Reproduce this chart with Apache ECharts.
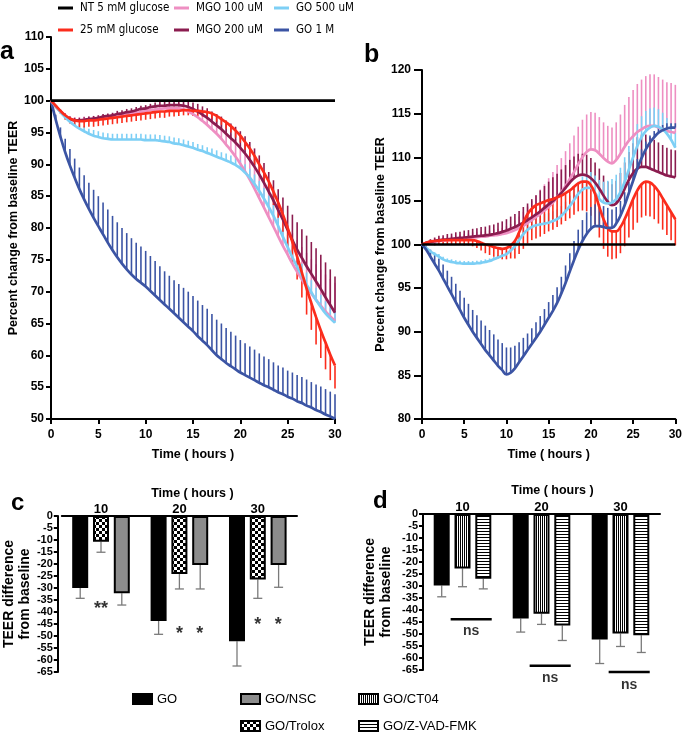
<!DOCTYPE html>
<html><head><meta charset="utf-8">
<script src="https://cdn.jsdelivr.net/npm/echarts@6/dist/echarts.min.js"></script>
<style>html,body{margin:0;padding:0;background:#fff}#chart{width:685px;height:732px}</style>
</head><body><div id="chart"></div>
<script>
// ---------- DATA ----------
const hours = [0,0.5,1,1.5,2,2.5,3,3.5,4,4.5, 5,5.5,6,6.5,7,7.5,8,8.5,9,9.5, 10,10.5,11,11.5,12,12.5,13,13.5,14,14.5,
  15,15.5,16,16.5,17,17.5,18,18.5,19,19.5, 20,20.5,21,21.5,22,22.5,23,23.5,24,24.5, 25,25.5,26,26.5,27,27.5,28,28.5,29,29.5, 30];

const seriesNames = ['NT 5 mM glucose','25 mM glucose','MGO 100 uM','MGO 200 uM','GO 500 uM','GO 1 M'];

// Panel a
const aNT = [100,100,100,100,100,100,100,100,100,100, 100,100,100,100,100,100,100,100,100,100, 100,100,100,100,100,100,100,100,100,100,
  100,100,100,100,100,100,100,100,100,100, 100,100,100,100,100,100,100,100,100,100, 100,100,100,100,100,100,100,100,100,100, 100];
const aGlu25 = [100,99.2,98.4,97.7,97.2,96.9,96.8,96.8,96.9,96.9, 97.0,97.1,97.2,97.3,97.4,97.5,97.6,97.7,97.8,97.9,
  98.0,98.1,98.2,98.3,98.3,98.4,98.4,98.4,98.5,98.5, 98.4,98.4,98.3,98.2,98.0,97.6,97.1,96.6,96.0,95.3,
  94.5,93.5,92.5,91.3,90.0,88.7,87.3,85.7,84.0,82.1, 80.0,77.8,75.5,73.0,70.5,68.2,66.0,63.9,62.0,60.1, 58.4];
const aGlu25Err = [0,0.3,0.5,0.7,0.8,0.9,1.0,1.0,1.0,1.0, 1.0,1.0,1.0,1.0,1.0,1.0,1.0,1.0,1.0,1.0,
  1.0,1.0,1.0,1.0,1.0,0.9,0.9,0.8,0.8,0.8, 0.8,0.8,0.8,0.8,0.8,0.9,0.9,1.0,1.0,1.1,
  1.1,1.2,1.3,1.4,1.5,1.7,1.9,2.1,2.4,2.7, 3.0,3.3,3.6,3.9,4.1,4.2,4.3,4.3,4.2,4.0, 3.6];
const aMGO100 = [100,99.1,98.3,97.6,97.1,96.9,96.9,97.0,97.0,97.1, 97.2,97.3,97.4,97.5,97.6,97.7,97.8,98.0,98.1,98.2,
  98.4,98.5,98.6,98.7,98.8,98.8,98.8,98.8,98.6,98.3, 97.9,97.4,96.8,96.2,95.5,94.8,94.0,93.1,92.2,91.2,
  90.1,88.9,87.6,86.2,84.7,83.2,81.7,80.2,78.7,77.2, 75.8,74.4,73.1,71.9,70.8,69.7,68.7,67.8,66.9,66.1, 65.4];
const aMGO100Err = [0,0.2,0.3,0.4,0.5,0.5,0.5,0.5,0.5,0.5, 0.5,0.5,0.5,0.5,0.5,0.5,0.5,0.5,0.5,0.5,
  0.5,0.5,0.5,0.6,0.6,0.7,0.7,0.8,0.9,1.0, 1.2,1.3,1.5,1.6,1.8,2.0,2.2,2.4,2.6,2.8,
  3.0,3.2,3.3,3.5,3.6,3.8,4.0,4.1,4.3,4.5, 4.6,4.8,5.0,5.1,5.3,5.4,5.6,5.7,5.8,5.9, 6.0];
const aMGO200 = [100,99.1,98.3,97.6,97.1,96.9,96.9,97.0,97.1,97.2, 97.3,97.5,97.6,97.7,97.9,98.0,98.2,98.3,98.5,98.7,
  98.8,99.0,99.1,99.2,99.2,99.3,99.3,99.3,99.2,99.0, 98.7,98.3,97.8,97.3,96.7,96.1,95.5,94.8,94.1,93.4,
  92.6,91.7,90.7,89.6,88.4,87.1,85.7,84.3,82.8,81.3, 79.7,78.1,76.6,75.3,74.0,72.8,71.6,70.4,69.1,67.9, 66.7];
const aMGO200Err = [0,0.2,0.3,0.4,0.4,0.4,0.4,0.4,0.4,0.4, 0.4,0.4,0.4,0.4,0.5,0.5,0.5,0.5,0.5,0.5,
  0.5,0.5,0.6,0.6,0.6,0.7,0.7,0.7,0.8,0.9, 1.0,1.2,1.3,1.5,1.6,1.8,2.0,2.1,2.3,2.5,
  2.6,2.7,2.8,2.9,3.0,3.1,3.1,3.2,3.3,3.5, 3.8,4.0,4.3,4.5,4.8,5.0,5.2,5.4,5.5,5.6, 5.7];
const aGO500 = [100,99.1,98.2,97.4,96.7,96.1,95.6,95.2,94.8,94.5, 94.3,94.1,94.0,93.9,93.9,93.9,93.9,93.9,93.9,93.9,
  93.8,93.8,93.8,93.7,93.6,93.5,93.3,93.2,93.0,92.8, 92.6,92.3,92.1,91.8,91.5,91.2,90.9,90.6,90.3,89.9,
  89.4,88.7,87.9,86.9,85.8,84.6,83.3,81.9,80.3,78.6, 77.0,75.4,73.9,72.5,71.1,69.9,68.7,67.6,66.6,65.8, 65.1];
const aGO500Err = [0,0.2,0.3,0.4,0.5,0.6,0.7,0.8,0.8,0.9, 0.9,0.9,0.9,0.9,0.9,0.9,0.9,0.9,0.9,0.9,
  0.9,0.9,0.9,0.9,0.9,0.9,0.9,0.9,0.9,0.9, 0.9,0.9,0.9,0.9,1.0,1.0,1.0,1.1,1.1,1.2,
  1.2,1.3,1.4,1.5,1.6,1.7,1.8,1.8,1.9,1.9, 1.9,1.9,1.9,1.9,1.9,1.9,1.9,1.9,1.9,1.9, 1.9];
const aGO1M = [100,97.0,94.3,91.9,89.8,87.9,86.1,84.5,83.0,81.6, 80.3,79.0,77.7,76.5,75.4,74.4,73.5,72.7,72.0,71.4,
  70.8,70.1,69.4,68.7,68.0,67.3,66.6,65.9,65.2,64.5, 63.8,63.0,62.3,61.6,60.8,60.0,59.4,58.8,58.3,57.8,
  57.3,56.9,56.5,56.1,55.7,55.3,55.0,54.6,54.2,53.9, 53.5,53.2,52.8,52.5,52.1,51.8,51.4,51.1,50.7,50.4, 50.0];
const aGO1MErr = [0,0.8,1.5,2.1,2.6,3.0,3.4,3.8,4.1,4.4, 4.7,5.0,5.2,5.4,5.5,5.6,5.7,5.7,5.7,5.7,
  5.6,5.5,5.4,5.3,5.2,5.2,5.2,5.3,5.4,5.5, 5.5,5.6,5.6,5.7,5.7,5.6,5.6,5.5,5.4,5.3,
  5.1,5.0,4.9,4.8,4.6,4.5,4.4,4.3,4.2,4.2, 4.1,4.1,4.1,4.1,4.1,4.0,4.0,4.0,4.0,3.9, 3.9];

// Panel b
const bNT = [100,100,100,100,100,100,100,100,100,100, 100,100,100,100,100,100,100,100,100,100, 100,100,100,100,100,100,100,100,100,100,
  100,100,100,100,100,100,100,100,100,100, 100,100,100,100,100,100,100,100,100,100, 100,100,100,100,100,100,100,100,100,100, 100];
const bGlu25 = [100,100.2,100.35,100.4,100.45,100.5,100.5,100.5,100.5,100.5, 100.5,100.5,100.5,100.4,100.2,100.0,99.9,99.7,99.6,99.5,
  99.6,99.9,100.4,101.4,102.5,103.5,104.1,104.5,104.7,104.9, 105.1,105.2,105.4,105.6,105.9,106.2,106.6,107.0,107.2,107.2,
  106.8,105.8,104.3,102.9,101.9,101.5,101.5,102.0,102.9,104.0, 105.2,106.2,106.9,107.2,107.1,106.7,106.1,105.3,104.5,103.7, 102.9];
const bGlu25Err = [0,0.3,0.4,0.5,0.5,0.5,0.5,0.5,0.5,0.5, 0.6,0.6,0.7,0.8,0.9,1.0,1.1,1.1,1.2,1.2,
  1.3,1.5,2.0,2.5,3.0,3.4,3.6,3.8,3.8,3.7, 3.6,3.5,3.4,3.3,3.2,3.2,3.2,3.2,3.3,3.4,
  3.5,3.5,3.5,3.4,3.3,3.2,3.1,3.0,3.1,3.2, 3.5,3.7,3.8,3.9,3.9,3.8,3.7,3.6,3.4,3.2, 3.0];
const bMGO100 = [100,100.1,100.2,100.3,100.4,100.45,100.5,100.55,100.6,100.65, 100.7,100.75,100.8,100.85,100.9,100.9,101.0,101.05,101.1,101.2,
  101.3,101.45,101.65,101.9,102.15,102.45,102.8,103.15,103.5,103.9, 104.3,104.8,105.4,106.0,106.7,107.5,108.3,109.2,110.0,110.6,
  110.9,110.8,110.4,109.9,109.5,109.3,109.7,110.4,111.2,111.9, 112.4,112.9,113.2,113.5,113.6,113.6,113.4,113.2,113.0,112.9, 112.8];
const bMGO100Err = [0,0.3,0.4,0.4,0.4,0.4,0.4,0.4,0.4,0.5, 0.5,0.5,0.6,0.6,0.6,0.6,0.6,0.7,0.7,0.7,
  0.8,0.9,1.1,1.3,1.6,1.9,2.2,2.5,2.8,3.0, 3.3,3.5,3.7,3.9,4.0,4.1,4.2,4.3,4.3,4.3,
  4.3,4.3,4.2,4.1,4.1,4.1,4.3,4.5,4.8,5.0, 5.3,5.5,5.7,5.8,5.9,5.9,5.8,5.7,5.6,5.6, 5.5];
const bMGO200 = [100,100.15,100.3,100.4,100.5,100.55,100.6,100.65,100.7,100.75, 100.8,100.85,100.9,100.95,101.0,101.05,101.1,101.2,101.3,101.45,
  101.6,101.8,102.0,102.25,102.5,102.8,103.1,103.45,103.8,104.2, 104.6,105.0,105.4,105.9,106.5,107.1,107.6,107.9,108.0,107.9,
  107.6,107.1,106.4,105.6,104.9,104.5,104.7,105.4,106.4,107.4, 108.2,108.7,108.9,108.9,108.7,108.5,108.3,108.1,107.9,107.8, 107.7];
const bMGO200Err = [0,0.2,0.3,0.4,0.5,0.5,0.6,0.6,0.7,0.7, 0.8,0.8,0.9,0.9,1.0,1.0,1.1,1.1,1.2,1.2,
  1.3,1.4,1.5,1.6,1.8,1.9,2.1,2.2,2.4,2.5, 2.6,2.7,2.7,2.7,2.6,2.6,2.5,2.5,2.4,2.4,
  2.3,2.3,2.3,2.3,2.3,2.4,2.6,2.8,3.0,3.2, 3.4,3.6,3.7,3.7,3.6,3.5,3.4,3.3,3.2,3.1, 3.1];
const bGO500 = [100,99.6,99.2,98.9,98.6,98.3,98.1,98.0,97.9,97.85, 97.8,97.8,97.8,97.85,97.9,98.0,98.1,98.3,98.5,98.7,
  98.9,99.3,99.8,100.5,101.2,101.7,102.0,102.2,102.3,102.4, 102.5,102.7,102.9,103.3,103.8,104.4,105.1,105.8,106.3,106.5,
  106.5,105.9,105.2,104.8,104.7,104.8,105.2,106.0,107.2,108.6, 110.0,111.3,112.3,113.0,113.4,113.6,113.5,113.2,112.7,112.0, 111.1];
const bGO500Err = [0,0.1,0.2,0.2,0.3,0.3,0.3,0.3,0.3,0.3, 0.3,0.3,0.3,0.3,0.3,0.3,0.3,0.3,0.3,0.3,
  0.3,0.4,0.6,0.8,0.9,1.0,1.0,1.1,1.1,1.1, 1.1,1.1,1.1,1.1,1.1,1.2,1.3,1.4,1.5,1.6,
  1.8,2.0,2.2,2.4,2.6,2.7,2.8,2.8,2.8,2.7, 2.6,2.5,2.4,2.3,2.2,2.1,2.0,1.9,1.8,1.8, 1.7];
const bGO1M = [100,99.4,98.6,97.8,97.0,96.1,95.2,94.3,93.4,92.5, 91.6,90.8,90.0,89.3,88.6,87.9,87.3,86.7,86.1,85.6,
  85.1,85.3,85.8,86.5,87.2,87.9,88.6,89.3,90.0,90.8, 91.6,92.4,93.3,94.4,95.6,96.9,98.2,99.4,100.4,101.2,
  101.8,102.1,102.1,102.0,101.9,101.9,102.4,103.3,104.5,105.9, 107.3,108.7,109.9,110.9,111.7,112.3,112.8,113.1,113.3,113.4, 113.4];
const bGO1MErr = [0,0.4,0.8,1.1,1.4,1.6,1.8,2.0,2.1,2.2, 2.3,2.4,2.5,2.6,2.7,2.8,2.9,3.0,3.0,3.1,
  3.1,2.9,2.6,2.3,2.1,1.9,1.8,1.8,1.8,1.8, 1.8,1.8,1.8,1.9,2.0,2.1,2.2,2.3,2.4,2.5,
  2.5,2.5,2.5,2.4,2.3,2.1,1.9,1.7,1.5,1.3, 1.2,1.1,1.0,0.9,0.8,0.7,0.7,0.6,0.6,0.5, 0.5];

// Panels c & d (bar charts)
const timeCats = ['10','20','30'];
const cGO = [-30.0,-43.7,-52.2],      cGOErr = [4.3,5.6,10.3];
const cTrolox = [-10.7,-24.2,-26.5],  cTroloxErr = [4.4,6.2,7.8];
const cNSC = [-32.2,-20.4,-20.4],     cNSCErr = [4.9,10.0,9.3];
const dGO = [-29.8,-43.5,-52.3],      dGOErr = [4.7,5.7,10.0];
const dCT04 = [-22.7,-41.6,-49.8],    dCT04Err = [7.6,4.4,5.4];
const dZVAD = [-27.0,-46.5,-50.5],    dZVADErr = [4.2,6.2,7.2];
// significance marks: [group position, value, text]
const cMarks = [[0.5,-37.3,'**'],[1.5,-47.5,'*'],[1.76,-47.5,'*'],[2.5,-43.6,'*'],[2.76,-43.6,'*']];
// ns brackets: [from, to, value]; labels: [pos, value, text]
const dNsLines = [[0.35,0.87,-43.9],[1.35,1.87,-63.2],[2.35,2.87,-65.8]];
const dNsText = [[0.61,-49.0,'ns'],[1.61,-68.2,'ns'],[2.61,-71.4,'ns']];

// ---------- STYLE ----------
const COL = {nt:'#000000', glu:'#fb2c1c', m100:'#ee8fc2', m200:'#8b1c4f', g500:'#7dcff5', g1m:'#3b54a4'};
const FONT = 'Liberation Sans, Arial, sans-serif';

// pick a condensed face for the top legend if one is installed
function fontExists(name){
  const c = document.createElement('canvas').getContext('2d');
  const s = 'NT 5 mM glucose MGO 100 uM';
  c.font = '20px monospace'; const w1 = c.measureText(s).width;
  c.font = '20px "' + name + '", monospace'; const w2 = c.measureText(s).width;
  c.font = '20px serif'; const w3 = c.measureText(s).width;
  c.font = '20px "' + name + '", serif'; const w4 = c.measureText(s).width;
  return w1 !== w2 || w3 !== w4;
}
let NARROW = 'Liberation Sans', NARROW_SIZE = 11.5;
for (const f of ['Liberation Sans Narrow','Arial Narrow','DejaVu Sans Condensed','Roboto Condensed']) {
  if (fontExists(f)) { NARROW = f; NARROW_SIZE = (f === 'DejaVu Sans Condensed') ? 11.5 : 13; break; }
}

const BAR_W = 16, BAR_GAP = 0.3;

function makePattern(kind){
  const cv = document.createElement('canvas');
  const ctx = cv.getContext('2d');
  if(kind==='check'){ cv.width=6; cv.height=6; ctx.fillStyle='#fff'; ctx.fillRect(0,0,6,6); ctx.fillStyle='#000'; ctx.fillRect(0,0,3,3); ctx.fillRect(3,3,3,3); }
  else if(kind==='vert'){ cv.width=2; cv.height=2; ctx.fillStyle='#fff'; ctx.fillRect(0,0,2,2); ctx.fillStyle='#000'; ctx.fillRect(0,0,1,2); }
  else { cv.width=3; cv.height=3; ctx.fillStyle='#fff'; ctx.fillRect(0,0,3,3); ctx.fillStyle='#000'; ctx.fillRect(0,0,3,1); }
  return {image: cv, repeat:'repeat'};
}

const axisBase = {
  axisLine:{onZero:false, lineStyle:{color:'#000', width:2}},
  axisTick:{length:5, lineStyle:{color:'#000', width:2}},
  axisLabel:{color:'#000', fontWeight:'bold', fontSize:12, fontFamily:FONT},
  splitLine:{show:false},
  nameTextStyle:{color:'#000', fontWeight:'bold', fontSize:12.5, fontFamily:FONT}
};
function ax(o){ return Object.assign({}, JSON.parse(JSON.stringify(axisBase)), o); }

function errRender(dir, color){
  return function(params, api){
    const t = api.value(0), v = api.value(1), e = api.value(2);
    const p1 = api.coord([t, v]), p2 = api.coord([t, v + dir*e]);
    return {type:'line', shape:{x1:p1[0], y1:p1[1], x2:p2[0], y2:p2[1]}, style:{stroke:color, lineWidth:1.6}};
  };
}
function lineSeries(name, vals, color, xi, yi){
  return {type:'line', name:name, xAxisIndex:xi, yAxisIndex:yi, data:hours.map((t,i)=>[t, vals[i]]),
    showSymbol:false, symbol:'none', smooth:0.4, lineStyle:{color:color, width:2.7}, itemStyle:{color:color}, silent:true};
}
function errSeries(id, vals, errs, dir, color, xi, yi){
  return {type:'custom', name:id, xAxisIndex:xi, yAxisIndex:yi, data:hours.map((t,i)=>[t, vals[i], errs[i]]),
    encode:{x:0, y:1}, renderItem:errRender(dir, color), silent:true};
}
function barSeries(name, vals, fill, xi, yi){
  return {type:'bar', name:name, xAxisIndex:xi, yAxisIndex:yi, data:vals, barWidth:BAR_W, barGap:(BAR_GAP*100)+'%',
    itemStyle:{color:fill, borderColor:'#000', borderWidth:2}, silent:true, z:3};
}
function barErrSeries(id, vals, errs, idx, xi, yi){
  const step = BAR_W*(1+BAR_GAP);
  return {type:'custom', name:id, xAxisIndex:xi, yAxisIndex:yi, z:2, silent:true,
    data: vals.map((v,i)=>[i, v, errs[i]]), encode:{x:0, y:1},
    renderItem:function(params, api){
      const c = api.value(0), v = api.value(1), e = api.value(2);
      const p = api.coord([c, v]), q = api.coord([c, v - e]);
      const x = p[0] + (idx-1)*step;
      const st = {stroke:'#7a7a7a', lineWidth:1.3};
      return {type:'group', children:[
        {type:'line', shape:{x1:x, y1:p[1], x2:x, y2:q[1]}, style:st},
        {type:'line', shape:{x1:x-4.5, y1:q[1], x2:x+4.5, y2:q[1]}, style:st}]};
    }};
}

const chart = echarts.init(document.getElementById('chart'), null, {renderer:'canvas'});

const pCheck = makePattern('check'), pVert = makePattern('vert'), pHorz = makePattern('horz');

const series = [
  // panel a
  errSeries('ea1', aGO1M, aGO1MErr, 1, COL.g1m, 0, 0), lineSeries(seriesNames[5], aGO1M, COL.g1m, 0, 0),
  errSeries('ea2', aMGO100, aMGO100Err, 1, COL.m100, 0, 0), lineSeries(seriesNames[2], aMGO100, COL.m100, 0, 0),
  errSeries('ea3', aMGO200, aMGO200Err, 1, COL.m200, 0, 0), lineSeries(seriesNames[3], aMGO200, COL.m200, 0, 0),
  errSeries('ea4', aGO500, aGO500Err, 1, COL.g500, 0, 0), lineSeries(seriesNames[4], aGO500, COL.g500, 0, 0),
  errSeries('ea5', aGlu25, aGlu25Err, -1, COL.glu, 0, 0), lineSeries(seriesNames[1], aGlu25, COL.glu, 0, 0),
  lineSeries(seriesNames[0], aNT, COL.nt, 0, 0),
  // panel b
  errSeries('eb2', bMGO100, bMGO100Err, 1, COL.m100, 1, 1), lineSeries(seriesNames[2], bMGO100, COL.m100, 1, 1),
  errSeries('eb3', bMGO200, bMGO200Err, 1, COL.m200, 1, 1), lineSeries(seriesNames[3], bMGO200, COL.m200, 1, 1),
  errSeries('eb4', bGO500, bGO500Err, 1, COL.g500, 1, 1), lineSeries(seriesNames[4], bGO500, COL.g500, 1, 1),
  errSeries('eb5', bGlu25, bGlu25Err, -1, COL.glu, 1, 1), lineSeries(seriesNames[1], bGlu25, COL.glu, 1, 1),
  errSeries('eb1', bGO1M, bGO1MErr, 1, COL.g1m, 1, 1), lineSeries(seriesNames[5], bGO1M, COL.g1m, 1, 1),
  lineSeries(seriesNames[0], bNT, COL.nt, 1, 1),
  // panel c
  barSeries('GO', cGO, '#000', 2, 2), barSeries('GO/Trolox', cTrolox, pCheck, 2, 2), barSeries('GO/NSC', cNSC, '#8c8c8c', 2, 2),
  barErrSeries('ec1', cGO, cGOErr, 0, 2, 2), barErrSeries('ec2', cTrolox, cTroloxErr, 1, 2, 2), barErrSeries('ec3', cNSC, cNSCErr, 2, 2, 2),
  {type:'scatter', name:'cmarks', xAxisIndex:4, yAxisIndex:2, clip:false, symbolSize:0, silent:true,
    data:cMarks.map(m=>({name:m[2], value:[m[0], m[1]]})),
    label:{show:true, position:'inside', formatter:'{b}', color:'#000', fontSize:18, fontWeight:'bold', fontFamily:FONT, offset:[0,4]}},
  // panel d
  barSeries('GO', dGO, '#000', 3, 3), barSeries('GO/CT04', dCT04, pVert, 3, 3), barSeries('GO/Z-VAD-FMK', dZVAD, pHorz, 3, 3),
  barErrSeries('ed1', dGO, dGOErr, 0, 3, 3), barErrSeries('ed2', dCT04, dCT04Err, 1, 3, 3), barErrSeries('ed3', dZVAD, dZVADErr, 2, 3, 3),
  {type:'custom', name:'nslines', xAxisIndex:5, yAxisIndex:3, silent:true, data:dNsLines, encode:{x:[0,1], y:2},
    renderItem:function(params, api){
      const p1 = api.coord([api.value(0), api.value(2)]), p2 = api.coord([api.value(1), api.value(2)]);
      return {type:'line', shape:{x1:p1[0], y1:p1[1], x2:p2[0], y2:p2[1]}, style:{stroke:'#000', lineWidth:2.5}};
    }},
  {type:'scatter', name:'nstext', xAxisIndex:5, yAxisIndex:3, clip:false, symbolSize:0, silent:true,
    data:dNsText.map(m=>({name:m[2], value:[m[0], m[1]]})),
    label:{show:true, position:'inside', formatter:'{b}', color:'#000', fontSize:14, fontWeight:'bold', fontFamily:FONT}}
];

function topLegend(name, left, top){
  return {data:[name], left:left, top:top, padding:0, icon:'rect', itemWidth:15, itemHeight:3, selectedMode:false,
    textStyle:{fontFamily:NARROW, fontSize:NARROW_SIZE, color:'#000', lineHeight:14, padding:[0,0,0,2]}};
}
function botLegend(name, left, top){
  return {data:[name], left:left, top:top, padding:0, icon:'rect', itemWidth:19, itemHeight:10, selectedMode:false,
    textStyle:{fontFamily:FONT, fontSize:13, color:'#000', lineHeight:16}};
}

const option = {
  animation:false,
  backgroundColor:'#fff',
  title:[
    {text:'a', left:0, top:40, padding:0, textStyle:{fontSize:25, fontWeight:'bold', fontFamily:FONT, color:'#000'}},
    {text:'b', left:364, top:43, padding:0, textStyle:{fontSize:25, fontWeight:'bold', fontFamily:FONT, color:'#000'}},
    {text:'c', left:11, top:491, padding:0, textStyle:{fontSize:24, fontWeight:'bold', fontFamily:FONT, color:'#000'}},
    {text:'d', left:373, top:489, padding:0, textStyle:{fontSize:24, fontWeight:'bold', fontFamily:FONT, color:'#000'}}
  ],
  legend:[
    topLegend(seriesNames[0], 58, 1), topLegend(seriesNames[2], 174, 1), topLegend(seriesNames[4], 274, 1),
    topLegend(seriesNames[1], 58, 23), topLegend(seriesNames[3], 174, 23), topLegend(seriesNames[5], 274, 23),
    botLegend('GO', 132, 691), botLegend('GO/NSC', 240, 691), botLegend('GO/CT04', 358, 691),
    botLegend('GO/Trolox', 240, 718), botLegend('GO/Z-VAD-FMK', 358, 718)
  ],
  grid:[
    {left:51, top:37, width:284, height:382},
    {left:422, top:70, width:256, height:349},
    {left:56, top:516, width:241, height:156},
    {left:423, top:514, width:237, height:156}
  ],
  xAxis:[
    ax({type:'value', gridIndex:0, min:0, max:30, interval:5, name:'Time ( hours )', nameLocation:'middle', nameGap:29,
      axisLabel:Object.assign({}, axisBase.axisLabel, {margin:10})}),
    ax({type:'value', gridIndex:1, min:0, max:30, interval:5, name:'Time ( hours )', nameLocation:'middle', nameGap:29,
      axisLabel:Object.assign({}, axisBase.axisLabel, {margin:10})}),
    ax({type:'category', gridIndex:2, position:'top', data:timeCats, axisTick:{show:false},
      axisLabel:{color:'#000', fontWeight:'bold', fontSize:13, fontFamily:FONT, margin:0},
      name:'Time ( hours )', nameLocation:'middle', nameGap:16,
      nameTextStyle:{color:'#000', fontWeight:'bold', fontSize:12.5, fontFamily:FONT, padding:[0,0,0,26]}}),
    ax({type:'category', gridIndex:3, position:'top', data:timeCats, axisTick:{show:false},
      axisLabel:{color:'#000', fontWeight:'bold', fontSize:13, fontFamily:FONT, margin:0},
      name:'Time ( hours )', nameLocation:'middle', nameGap:17,
      nameTextStyle:{color:'#000', fontWeight:'bold', fontSize:12.5, fontFamily:FONT, padding:[0,0,0,22]}}),
    {type:'value', gridIndex:2, min:0, max:3, show:false},
    {type:'value', gridIndex:3, min:0, max:3, show:false}
  ],
  yAxis:[
    ax({type:'value', gridIndex:0, min:50, max:110, interval:5, name:'Percent change from baseline TEER', nameLocation:'middle', nameGap:30,
      axisLabel:Object.assign({}, axisBase.axisLabel, {margin:7})}),
    ax({type:'value', gridIndex:1, min:80, max:120, interval:5, name:'Percent change from baseline TEER', nameLocation:'middle', nameGap:35,
      axisTick:{length:8, lineStyle:{color:'#000', width:2}},
      axisLabel:Object.assign({}, axisBase.axisLabel, {margin:11})}),
    ax({type:'value', gridIndex:2, min:-65, max:0, interval:5, offset:4, name:'TEER difference\nfrom baseline', nameLocation:'middle', nameGap:19,
      axisTick:{length:4, lineStyle:{color:'#000', width:2}},
      axisLabel:{color:'#000', fontWeight:'bold', fontSize:11, fontFamily:FONT, margin:5},
      nameTextStyle:{color:'#000', fontWeight:'bold', fontSize:14, lineHeight:16, fontFamily:FONT}}),
    ax({type:'value', gridIndex:3, min:-65, max:0, interval:5, name:'TEER difference\nfrom baseline', nameLocation:'middle', nameGap:29,
      axisTick:{length:4, lineStyle:{color:'#000', width:2}},
      axisLabel:{color:'#000', fontWeight:'bold', fontSize:11, fontFamily:FONT, margin:5},
      nameTextStyle:{color:'#000', fontWeight:'bold', fontSize:14, lineHeight:16, fontFamily:FONT}})
  ],
  series:series
};
chart.setOption(option);
</script>
</body></html>
